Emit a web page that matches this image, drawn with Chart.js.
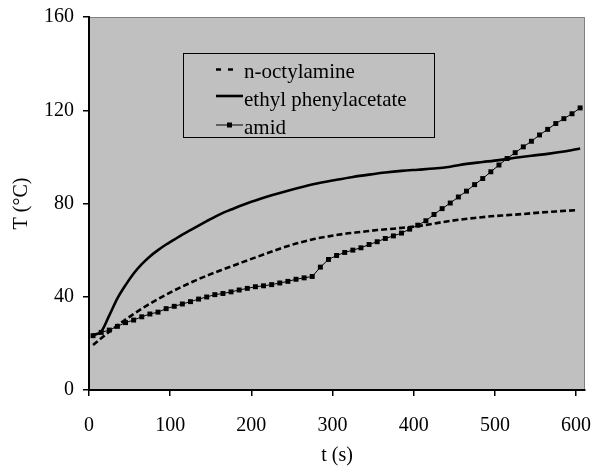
<!DOCTYPE html>
<html><head><meta charset="utf-8">
<script src="https://cdn.jsdelivr.net/npm/chart.js@4/dist/chart.umd.min.js"></script>
<style>html,body{margin:0;padding:0;background:#fff;}canvas{display:block;}</style>
</head><body>
<canvas id="c" width="596" height="466"></canvas>
<script>
// ---- data ----
const seriesNames = ['n-octylamine', 'ethyl phenylacetate', 'amid'];
const xTickValues = [0, 100, 200, 300, 400, 500, 600];
const yTickValues = [0, 40, 80, 120, 160];

const octylTime = [5, 15, 25, 35, 45, 55, 65, 75, 85, 95, 105, 115, 125, 135, 145, 155, 165, 175, 185, 195,
  215, 235, 255, 275, 295, 315, 335, 355, 375, 395, 415, 435, 455, 475, 495, 515, 535, 555, 575, 600];
const octylTemp = [19.3, 22.2, 25.0, 27.7, 30.2, 32.6, 34.9, 37.0, 39.0, 40.9, 42.7, 44.4, 46.0, 47.6, 49.0, 50.4, 51.7, 53.0, 54.3, 55.6,
  58.1, 60.6, 62.8, 64.6, 65.9, 67.0, 67.8, 68.6, 69.2, 69.9, 70.8, 72.0, 73.0, 73.8, 74.5, 75.0, 75.5, 76.1, 76.6, 77.1];

const ethylTime = [5, 15, 25, 35, 45, 55, 65, 75, 85, 95, 105, 115, 125, 135, 145, 155, 165, 175, 185, 195, 205,
  225, 245, 265, 285, 305, 325, 345, 365, 385, 405, 425, 445, 465, 485, 505, 525, 545, 565, 585, 605];
const ethylTemp = [23.6, 25.0, 32.0, 39.3, 45.0, 50.0, 54.0, 57.3, 60.0, 62.4, 64.5, 66.7, 68.6, 70.5, 72.4, 74.3, 76.0, 77.4, 78.8, 80.1, 81.3,
  83.5, 85.5, 87.3, 88.9, 90.2, 91.4, 92.4, 93.3, 94.0, 94.5, 95.0, 95.8, 97.0, 97.8, 98.6, 99.6, 100.5, 101.3, 102.3, 103.6];

const amidTime = [5, 15, 25, 35, 45, 55, 65, 75, 85, 95, 105, 115, 125, 135, 145, 155, 165, 175, 185, 195,
  205, 215, 225, 235, 245, 255, 265, 275, 285, 295, 305, 315, 325, 335, 345, 355, 365, 375, 385, 395,
  405, 415, 425, 435, 445, 455, 465, 475, 485, 495, 505, 515, 525, 535, 545, 555, 565, 575, 585, 595, 605];
const amidTemp = [23.3, 24.7, 25.7, 27.3, 28.9, 30.0, 31.4, 32.6, 33.4, 34.9, 35.9, 36.9, 37.9, 39.0, 39.9, 40.9, 41.4, 42.1, 42.9, 43.6,
  44.3, 44.7, 45.2, 45.9, 46.6, 47.5, 48.1, 48.7, 52.7, 56.0, 57.7, 59.0, 60.0, 61.0, 62.4, 63.6, 65.0, 66.1, 67.3, 69.0,
  70.7, 72.6, 75.3, 77.8, 80.2, 82.8, 85.3, 88.1, 90.7, 93.6, 96.5, 99.3, 101.8, 104.3, 106.7, 109.4, 111.8, 114.3, 116.4, 118.5, 121.0];

const toXY = (xs, ys) => xs.map((x, i) => ({x: x, y: ys[i]}));

const FONT = 'Liberation Serif';

const plotBg = {
  id: 'plotBg',
  beforeDraw(chart) {
    const {ctx, chartArea: a} = chart;
    ctx.save();
    ctx.fillStyle = '#c0c0c0';
    ctx.fillRect(a.left, a.top, a.right - a.left, a.bottom - a.top);
    ctx.strokeStyle = '#808080';
    ctx.lineWidth = 1;
    ctx.beginPath();
    ctx.moveTo(a.left, a.top + 0.5);
    ctx.lineTo(a.right - 0.5, a.top + 0.5);
    ctx.lineTo(a.right - 0.5, a.bottom);
    ctx.stroke();
    ctx.restore();
  }
};

const boxLegend = {
  id: 'boxLegend',
  afterDatasetsDraw(chart) {
    const ctx = chart.ctx;
    ctx.save();
    ctx.strokeStyle = '#000';
    ctx.lineWidth = 1;
    ctx.strokeRect(183.5, 53.5, 251, 84);
    const rows = [69.5, 96, 125];
    const baselines = [78, 106, 134];
    chart.data.datasets.forEach((ds, i) => {
      const y = rows[i];
      ctx.save();
      ctx.strokeStyle = '#000';
      ctx.lineWidth = ds.borderWidth;
      ctx.setLineDash(ds.borderDash ? [5, 7] : []);
      ctx.beginPath();
      ctx.moveTo(216, y);
      ctx.lineTo(ds.borderDash ? 234 : 243, y);
      ctx.stroke();
      ctx.restore();
      if (ds.pointRadius > 0) {
        ctx.fillStyle = '#000';
        ctx.fillRect(227, y - 2.5, 5, 5);
      }
      ctx.fillStyle = '#000';
      ctx.font = '21px "' + FONT + '"';
      ctx.textBaseline = 'alphabetic';
      ctx.textAlign = 'left';
      ctx.fillText(ds.label, 244, baselines[i]);
    });
    ctx.restore();
  }
};

function noPad(s) { s.paddingTop = 0; s.paddingBottom = 0; s.paddingLeft = 0; s.paddingRight = 0; }

new Chart(document.getElementById('c'), {
  type: 'scatter',
  data: {
    datasets: [
      {label: seriesNames[0], data: toXY(octylTime, octylTemp), showLine: true, borderColor: '#000', borderWidth: 2.6,
       borderDash: [6, 3], pointRadius: 0, cubicInterpolationMode: 'monotone'},
      {label: seriesNames[1], data: toXY(ethylTime, ethylTemp), showLine: true, borderColor: '#000', borderWidth: 2.6,
       pointRadius: 0, cubicInterpolationMode: 'monotone'},
      {label: seriesNames[2], data: toXY(amidTime, amidTemp), showLine: true, borderColor: '#000', borderWidth: 1,
       pointStyle: 'rect', pointRadius: 3.5, pointBackgroundColor: '#000', pointBorderColor: '#000', pointBorderWidth: 0, tension: 0}
    ]
  },
  options: {
    responsive: false,
    animation: false,
    layout: {padding: {top: 17, right: 11, left: 0, bottom: 0}},
    plugins: {legend: {display: false}, tooltip: {enabled: false}},
    scales: {
      x: {
        type: 'linear', min: 0, max: 611,
        afterBuildTicks: s => { s.ticks = xTickValues.map(v => ({value: v})); },
        afterFit: s => { s.height = 76; noPad(s); },
        ticks: {color: '#000', font: {family: FONT, size: 20}, padding: 18, maxRotation: 0},
        grid: {drawOnChartArea: false, drawTicks: true, tickLength: 6, color: '#000', lineWidth: 1.5},
        border: {display: true, color: '#000', width: 2},
        title: {display: true, text: 't (s)', color: '#000', font: {family: FONT, size: 20, lineHeight: 1}, padding: {top: 0, bottom: 0}}
      },
      y: {
        type: 'linear', min: 0, max: 160,
        afterBuildTicks: s => { s.ticks = yTickValues.map(v => ({value: v})); },
        afterFit: s => { s.width = 89; noPad(s); },
        ticks: {color: '#000', font: {family: FONT, size: 20}, padding: 9},
        grid: {drawOnChartArea: false, drawTicks: true, tickLength: 6, color: '#000', lineWidth: 1.5},
        border: {display: true, color: '#000', width: 2},
        title: {display: true, text: 'T (°C)', color: '#000', font: {family: FONT, size: 20}, padding: {top: 10, bottom: 0}}
      }
    }
  },
  plugins: [plotBg, boxLegend]
});
</script>
</body></html>
